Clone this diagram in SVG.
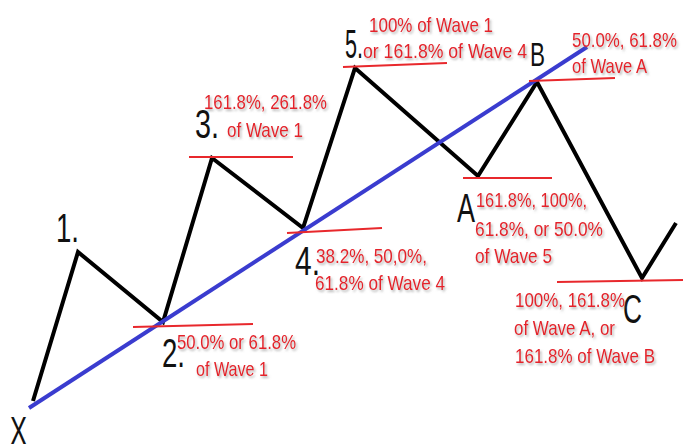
<svg xmlns="http://www.w3.org/2000/svg" width="683" height="444" viewBox="0 0 683 444">
<style>
.lbl{font-family:"Liberation Sans",Arial,sans-serif;font-size:40px;fill:#111;}
.note{font-family:"Liberation Sans",Arial,sans-serif;font-size:21px;fill:#e4242c;filter:url(#sh);}
.lvl{stroke:#e8282c;stroke-width:2;fill:none;}
.wave{stroke:#000;stroke-width:4;fill:none;stroke-linejoin:miter;}
.trend{stroke:#3a3ccf;stroke-width:4;fill:none;}
</style>
<defs>
<filter id="sh" x="-10%" y="-30%" width="130%" height="170%">
<feDropShadow dx="1.5" dy="2" stdDeviation="1" flood-color="#777" flood-opacity="0.55"/>
</filter>
</defs>
<rect width="683" height="444" fill="#fff"/>
<g id="connectors">
<polyline class="wave" points="33,401 78,252 163,322 212,158 303,228 355,68 478,176 537,82 642,278 676,223"/>
<line class="trend" x1="29" y1="408" x2="587" y2="47"/>
</g>
<g id="X"><text class="lbl" x="10" y="445" textLength="17" lengthAdjust="spacingAndGlyphs">X</text></g>
<g id="w1"><text class="lbl" x="56" y="242" textLength="23" lengthAdjust="spacingAndGlyphs">1.</text></g>
<g id="w2">
<line class="lvl" x1="133" y1="327" x2="253" y2="324"/>
<text class="lbl" x="162" y="367" textLength="23" lengthAdjust="spacingAndGlyphs">2.</text>
<text class="note" x="177" y="349" textLength="119" lengthAdjust="spacingAndGlyphs">50.0% or 61.8%</text>
<text class="note" x="196" y="376" textLength="72" lengthAdjust="spacingAndGlyphs">of Wave 1</text>
</g>
<g id="w3">
<line class="lvl" x1="189" y1="157" x2="293" y2="157"/>
<text class="lbl" x="195" y="138" textLength="24" lengthAdjust="spacingAndGlyphs">3.</text>
<text class="note" x="204" y="109" textLength="123" lengthAdjust="spacingAndGlyphs">161.8%, 261.8%</text>
<text class="note" x="227" y="137" textLength="76" lengthAdjust="spacingAndGlyphs">of Wave 1</text>
</g>
<g id="w4">
<line class="lvl" x1="287" y1="233" x2="382" y2="228"/>
<text class="lbl" x="295" y="275" textLength="25" lengthAdjust="spacingAndGlyphs">4.</text>
<text class="note" x="316" y="263" textLength="111" lengthAdjust="spacingAndGlyphs">38.2%, 50,0%,</text>
<text class="note" x="315" y="290" textLength="130" lengthAdjust="spacingAndGlyphs">61.8% of Wave 4</text>
</g>
<g id="w5">
<line class="lvl" x1="343" y1="67" x2="447" y2="63"/>
<text class="lbl" x="345" y="58" textLength="18" lengthAdjust="spacingAndGlyphs">5.</text>
<text class="note" x="369" y="32" textLength="124" lengthAdjust="spacingAndGlyphs">100% of Wave 1</text>
<text class="note" x="363" y="58" textLength="164" lengthAdjust="spacingAndGlyphs">or 161.8% of Wave 4</text>
</g>
<g id="wA">
<line class="lvl" x1="463" y1="178" x2="552" y2="178"/>
<text class="lbl" x="457" y="222" textLength="18" lengthAdjust="spacingAndGlyphs">A</text>
<text class="note" x="476" y="207" textLength="111" lengthAdjust="spacingAndGlyphs">161.8%, 100%,</text>
<text class="note" x="475" y="236" textLength="128" lengthAdjust="spacingAndGlyphs">61.8%, or 50.0%</text>
<text class="note" x="475" y="263" textLength="77" lengthAdjust="spacingAndGlyphs">of Wave 5</text>
</g>
<g id="wB">
<line class="lvl" x1="529" y1="81" x2="615" y2="78"/>
<text class="lbl" x="530" y="66" style="font-size:34px" textLength="15" lengthAdjust="spacingAndGlyphs">B</text>
<text class="note" x="572" y="47" textLength="105" lengthAdjust="spacingAndGlyphs">50.0%, 61.8%</text>
<text class="note" x="572" y="73" textLength="75" lengthAdjust="spacingAndGlyphs">of Wave A</text>
</g>
<g id="wC">
<line class="lvl" x1="557" y1="282" x2="683" y2="280"/>
<text class="lbl" x="623" y="323" textLength="19" lengthAdjust="spacingAndGlyphs">C</text>
<text class="note" x="515" y="307" textLength="110" lengthAdjust="spacingAndGlyphs">100%, 161.8%</text>
<text class="note" x="514" y="335" textLength="101" lengthAdjust="spacingAndGlyphs">of Wave A, or</text>
<text class="note" x="515" y="363" textLength="140" lengthAdjust="spacingAndGlyphs">161.8% of Wave B</text>
</g>
</svg>
